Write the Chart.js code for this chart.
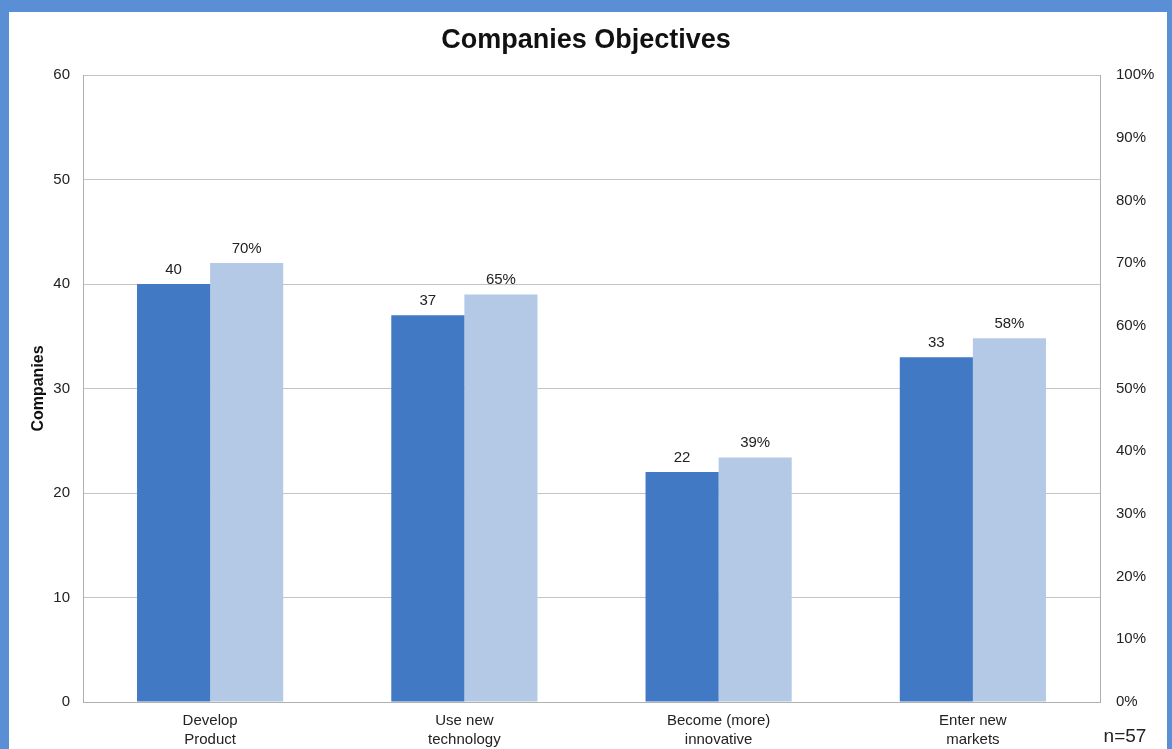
<!DOCTYPE html>
<html>
<head>
<meta charset="utf-8">
<script src="https://cdn.jsdelivr.net/npm/chart.js@4/dist/chart.umd.min.js"></script>
<style>
  html, body { margin: 0; padding: 0; background: #5b8fd5; }
  #wrap { width: 1172px; height: 749px; position: relative; }
</style>
</head>
<body>
<div id="wrap"><canvas id="c" width="1172" height="749"></canvas></div>
<script>
// Survey results: number of companies naming each objective, and share of all respondents
const categories = [["Develop", "Product"], ["Use new", "technology"], ["Become (more)", "innovative"], ["Enter new", "markets"]];
const companies = [40, 37, 22, 33];
const percentOfCompanies = [70, 65, 39, 58];
const sampleNote = "n=57";

const FONT = "'Liberation Sans', Arial, sans-serif";
const DARK = "#4279c4";
const LIGHT = "#b3c9e6";

// White card on the blue frame
const cardPlugin = {
  id: 'card',
  beforeDraw(chart) {
    const ctx = chart.ctx;
    ctx.save();
    ctx.fillStyle = '#5b8fd5';
    ctx.fillRect(0, 0, chart.width, chart.height);
    ctx.fillStyle = '#ffffff';
    ctx.fillRect(9, 12, 1158, chart.height - 12);
    ctx.restore();
  }
};

// Value labels above each bar and the sample-size note
const labelPlugin = {
  id: 'barLabels',
  afterDatasetsDraw(chart) {
    const ctx = chart.ctx;
    ctx.save();
    ctx.font = "15px " + FONT;
    ctx.fillStyle = '#222';
    ctx.textAlign = 'center';
    ctx.textBaseline = 'alphabetic';
    chart.data.datasets.forEach((ds, di) => {
      const meta = chart.getDatasetMeta(di);
      meta.data.forEach((bar, i) => {
        const txt = di === 0 ? String(ds.data[i]) : ds.data[i] + '%';
        ctx.fillText(txt, bar.x, bar.y - 10);
      });
    });
    ctx.font = "19px " + FONT;
    ctx.textAlign = 'center';
    ctx.textBaseline = 'alphabetic';
    ctx.fillText(sampleNote, 1125, 742);
    ctx.restore();
  }
};

new Chart(document.getElementById('c'), {
  type: 'bar',
  data: {
    labels: categories,
    datasets: [
      { label: 'Companies', data: companies, yAxisID: 'y', backgroundColor: DARK,
        categoryPercentage: 0.575, barPercentage: 1.0 },
      { label: 'Share', data: percentOfCompanies, yAxisID: 'y1', backgroundColor: LIGHT,
        categoryPercentage: 0.575, barPercentage: 1.0 }
    ]
  },
  options: {
    responsive: false,
    animation: false,
    layout: { padding: { left: 0, right: 0, top: 0, bottom: 0 } },
    plugins: {
      legend: { display: false },
      tooltip: { enabled: false },
      title: {
        display: true,
        text: 'Companies Objectives',
        color: '#111',
        font: { family: FONT, size: 27, weight: 'bold' },
        padding: { top: 24.3, bottom: 18.3 }
      }
    },
    scales: {
      x: {
        grid: { display: false, drawTicks: false },
        border: { display: true, color: '#b0b0b0' },
        ticks: { color: '#222', font: { family: FONT, size: 15, lineHeight: 1.27 }, padding: 9.5, maxRotation: 0, autoSkip: false },
        afterFit(s) { s.height = 47; }
      },
      y: {
        position: 'left',
        min: 0, max: 60,
        ticks: { stepSize: 10, color: '#222', font: { family: FONT, size: 15 }, padding: 13 },
        grid: { color: '#c4c4c4', drawTicks: false },
        border: { display: true, color: '#b0b0b0' },
        title: { display: true, text: 'Companies', color: '#111', font: { family: FONT, size: 16, weight: 'bold' }, padding: { top: 29.4, bottom: 0 } },
        afterFit(s) { s.width = 83; }
      },
      y1: {
        position: 'right',
        min: 0, max: 100,
        ticks: { stepSize: 10, color: '#222', font: { family: FONT, size: 15 }, padding: 16, callback: v => v + '%' },
        grid: { drawOnChartArea: false, drawTicks: false },
        border: { display: true, color: '#b0b0b0' },
        afterFit(s) { s.width = 72; }
      }
    }
  },
  plugins: [cardPlugin, labelPlugin]
});
</script>
</body>
</html>
